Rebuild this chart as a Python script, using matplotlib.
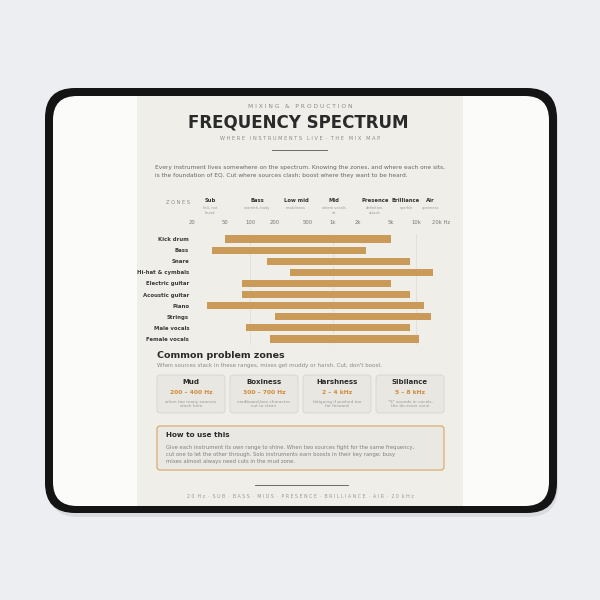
import matplotlib
matplotlib.use('Agg')
import matplotlib.pyplot as plt
from matplotlib.patches import FancyBboxPatch, Rectangle

# instrument ranges (Hz)
instruments = ['Kick drum', 'Bass', 'Snare', 'Hi-hat & cymbals', 'Electric guitar',
               'Acoustic guitar', 'Piano', 'Strings', 'Male vocals', 'Female vocals']
low_hz = [50, 35, 160, 300, 80, 80, 30, 200, 90, 175]
high_hz = [5000, 2500, 8500, 16000, 5000, 8500, 12500, 15000, 8500, 11000]

freq_ticks = [20, 50, 100, 200, 500, 1000, 2000, 5000, 10000, 20000]
freq_labels = ['20', '50', '100', '200', '500', '1k', '2k', '5k', '10k', '20k Hz']

zone_names = ['Sub', 'Bass', 'Low mid', 'Mid', 'Presence', 'Brilliance', 'Air']
zone_notes = ['felt, not\nheard', 'warmth, body', 'muddiness', 'where vocals\nsit',
              'definition,\nattack', 'sparkle', 'openness']
zone_centers = [33, 121, 358, 1030, 3200, 7600, 15000]

problem_names = ['Mud', 'Boxiness', 'Harshness', 'Sibilance']
problem_ranges = ['200 – 400 Hz', '300 – 700 Hz', '2 – 4 kHz', '5 – 8 kHz']
problem_notes = ['when too many sources\nstack here', 'cardboard-box character,\ncut to clean',
                 'fatiguing if pushed too\nfar forward', '"S" sounds in vocals,\nthe de-esser zone']

BAR = '#c99a58'
ORANGE = '#d28a38'
DARK = '#2a2a2a'
GRAY = '#8a8a8a'

plt.rcParams['font.family'] = ['DejaVu Sans']
fig = plt.figure(figsize=(6, 6), dpi=100)
fig.patch.set_facecolor('#eceef1')

# pixel-space canvas for the mat and poster
bg = fig.add_axes([0, 0, 1, 1])
bg.set_xlim(0, 600)
bg.set_ylim(600, 0)
bg.axis('off')

# shadow + mat
bg.add_patch(FancyBboxPatch((48, 94), 510, 423, boxstyle='round,pad=0,rounding_size=30',
                            fc='#d9dbde', ec='none', zorder=1))
bg.add_patch(FancyBboxPatch((45, 88), 512, 425, boxstyle='round,pad=0,rounding_size=30',
                            fc='#141414', ec='none', zorder=2))
bg.add_patch(FancyBboxPatch((53, 96), 496, 410, boxstyle='round,pad=0,rounding_size=24',
                            fc='#fbfbfa', ec='none', zorder=3))
bg.add_patch(Rectangle((137, 96), 326, 410, fc='#efeee9', ec='none', zorder=4))

# header
bg.text(300, 106, 'M I X I N G   &   P R O D U C T I O N', ha='center', va='center',
        fontsize=4.3, color=GRAY, zorder=5)
bg.text(298, 123, 'FREQUENCY SPECTRUM', ha='center', va='center', fontsize=12,
        fontweight='bold', color=DARK, zorder=5)
bg.text(300, 139, 'W H E R E   I N S T R U M E N T S   L I V E  ·  T H E   M I X   M A P',
        ha='center', va='center', fontsize=3.6, color=GRAY, zorder=5)
bg.plot([272, 327], [150, 150], color='#555555', lw=0.6, zorder=5)

bg.text(155, 167, 'Every instrument lives somewhere on the spectrum. Knowing the zones, and where each one sits,',
        ha='left', va='center', fontsize=4.2, color='#666666', zorder=5)
bg.text(155, 176, 'is the foundation of EQ. Cut where sources clash; boost where they want to be heard.',
        ha='left', va='center', fontsize=4.2, color='#666666', zorder=5)

bg.text(178, 203, 'Z O N E S', ha='center', va='center', fontsize=3.6, color=GRAY, zorder=5)

# problem zones section
bg.text(157, 355, 'Common problem zones', ha='left', va='center', fontsize=6.8,
        fontweight='bold', color=DARK, zorder=5)
bg.text(157, 366, "When sources stack in these ranges, mixes get muddy or harsh. Cut, don't boost.",
        ha='left', va='center', fontsize=4.0, color=GRAY, zorder=5)
for i in range(4):
    x0 = 157 + i * 73
    bg.add_patch(FancyBboxPatch((x0, 375), 68, 38, boxstyle='round,pad=0,rounding_size=3',
                                fc='#e8e7e2', ec='#d6d4cf', lw=0.6, zorder=5))
    cx = x0 + 34
    bg.text(cx, 382, problem_names[i], ha='center', va='center', fontsize=5,
            fontweight='bold', color=DARK, zorder=6)
    bg.text(cx, 392, problem_ranges[i], ha='center', va='center', fontsize=4.3,
            fontweight='bold', color=ORANGE, zorder=6)
    bg.text(cx, 404, problem_notes[i], ha='center', va='center', fontsize=3.1,
            color='#999999', linespacing=1.3, zorder=6)

# how to use box
bg.add_patch(FancyBboxPatch((157, 426), 287, 44, boxstyle='round,pad=0,rounding_size=3',
                            fc='#e9e8e3', ec='#d9a464', lw=0.8, zorder=5))
bg.text(166, 435, 'How to use this', ha='left', va='center', fontsize=5.2,
        fontweight='bold', color=DARK, zorder=6)
how_lines = ['Give each instrument its own range to shine. When two sources fight for the same frequency,',
             'cut one to let the other through. Solo instruments earn boosts in their key range; busy',
             'mixes almost always need cuts in the mud zone.']
for k, line in enumerate(how_lines):
    bg.text(166, 448 + k * 6.5, line, ha='left', va='center', fontsize=3.75,
            color='#808080', zorder=6)

# footer
bg.plot([255, 348], [485, 485], color='#555555', lw=0.6, zorder=5)
bg.text(300, 497, '2 0  H z  ·  S U B  ·  B A S S  ·  M I D S  ·  P R E S E N C E  ·  B R I L L I A N C E  ·  A I R  ·  2 0  k H z',
        ha='center', va='center', fontsize=3.4, color='#9a9a9a', zorder=5)

# frequency bar chart (log axis, 20 Hz at px 192, 20 kHz at px 441)
ax = fig.add_axes([192 / 600, 1 - 344.5 / 600, 249 / 600, 111 / 600])
ax.set_facecolor('none')
ax.set_xscale('log')
ax.set_xlim(20, 20000)
rows = list(range(len(instruments)))
widths = [h - l for l, h in zip(low_hz, high_hz)]
ax.barh(rows, widths, left=low_hz, height=0.64, color=BAR, zorder=3)
ax.set_ylim(len(instruments) - 0.5, -0.5)
ax.set_yticks(rows)
ax.set_yticklabels(instruments, fontsize=3.9, fontweight='bold', color='#3a3a3a')
ax.tick_params(axis='y', length=0, pad=2)
ax.xaxis.tick_top()
ax.set_xticks(freq_ticks)
ax.set_xticklabels(freq_labels, fontsize=3.8, color='#777777')
ax.minorticks_off()
ax.tick_params(axis='x', length=0, pad=6)
for f in [100, 1000, 10000]:
    ax.axvline(f, color='#dedcd6', lw=0.5, zorder=1)
for s in ax.spines.values():
    s.set_visible(False)

# zone headings placed in data coordinates above the axis
for name, note, c in zip(zone_names, zone_notes, zone_centers):
    ax.text(c, -3.5, name, ha='center', va='center', fontsize=3.8, fontweight='bold',
            color='#333333', clip_on=False)
    ax.text(c, -2.95, note, ha='center', va='top', fontsize=2.6, color='#9a9a9a',
            linespacing=1.2, clip_on=False)

fig.savefig('out.png', dpi=100, facecolor=fig.get_facecolor())
